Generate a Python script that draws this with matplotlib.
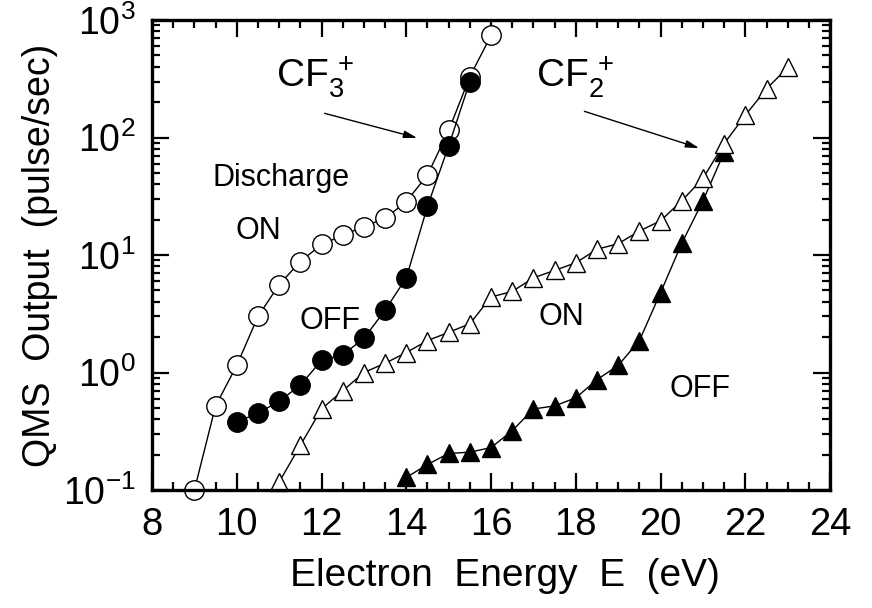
import matplotlib
matplotlib.use("Agg")
import matplotlib.pyplot as plt
from matplotlib.ticker import MultipleLocator, LogLocator, FixedLocator, NullFormatter

plt.rcParams['font.family'] = ['Liberation Sans', 'DejaVu Sans']
plt.rcParams['mathtext.fontset'] = 'custom'
plt.rcParams['mathtext.rm'] = 'Liberation Sans'
plt.rcParams['mathtext.default'] = 'regular'

# CF3+ signal, discharge on / off
cf3_on_e = [9.0, 9.5, 10.0, 10.5, 11.0, 11.5, 12.0, 12.5, 13.0, 13.5, 14.0, 14.5, 15.0, 15.5, 16.0]
cf3_on_v = [0.1, 0.52, 1.15, 3.0, 5.6, 8.8, 12.3, 14.7, 17.5, 20.5, 28.5, 48, 115, 330, 740]
cf3_off_e = [10.0, 10.5, 11.0, 11.5, 12.0, 12.5, 13.0, 13.5, 14.0, 14.5, 15.0, 15.5]
cf3_off_v = [0.38, 0.45, 0.57, 0.78, 1.27, 1.42, 1.95, 3.4, 6.4, 26, 85, 300]

# CF2+ signal, discharge on / off
cf2_on_e = [11.0, 11.5, 12.0, 12.5, 13.0, 13.5, 14.0, 14.5, 15.0, 15.5, 16.0, 16.5,
            17.0, 17.5, 18.0, 18.5, 19.0, 19.5, 20.0, 20.5, 21.0, 21.5, 22.0, 22.5, 23.0]
cf2_on_v = [0.117, 0.24, 0.49, 0.70, 1.0, 1.2, 1.48, 1.87, 2.2, 2.6, 4.4, 4.9,
            6.4, 7.4, 8.6, 11.2, 12.5, 16, 19.6, 29, 45, 89, 155, 260, 395]
cf2_off_e = [14.0, 14.5, 15.0, 15.5, 16.0, 16.5, 17.0, 17.5, 18.0, 18.5, 19.0, 19.5,
             20.0, 20.5, 21.0, 21.5]
cf2_off_v = [0.128, 0.165, 0.205, 0.21, 0.23, 0.32, 0.49, 0.52, 0.61, 0.87, 1.15, 1.87,
             4.8, 12.6, 29, 75]

y_ticks = [0.1, 1, 10, 100, 1000]
y_tick_labels = [r'$10^{-1}$', r'$10^{0}$', r'$10^{1}$', r'$10^{2}$', r'$10^{3}$']
x_ticks = [8, 10, 12, 14, 16, 18, 20, 22, 24]

fig = plt.figure(figsize=(8.72, 6.08), dpi=100)
ax = fig.add_axes([0.1743, 0.194, 0.7777, 0.773])

line_kw = dict(color='black', lw=1.0, clip_on=False)
ax.plot(cf3_on_e, cf3_on_v, marker='o', ms=14, mfc='white', mec='black', mew=1.0, **line_kw)
ax.plot(cf3_off_e, cf3_off_v, marker='o', ms=14, mfc='black', mec='black', mew=1.0, **line_kw)
ax.plot(cf2_off_e, cf2_off_v, marker='^', ms=13, mfc='black', mec='black', mew=1.0, **line_kw)
ax.plot(cf2_on_e, cf2_on_v, marker='^', ms=13, mfc='white', mec='black', mew=1.0, **line_kw)

ax.set_xlim(8, 24)
ax.set_yscale('log')
ax.set_ylim(0.1, 1000)

ax.xaxis.set_major_locator(FixedLocator(x_ticks))
ax.xaxis.set_minor_locator(MultipleLocator(0.5))
ax.set_yticks(y_ticks)
ax.set_yticklabels(y_tick_labels)
ax.yaxis.set_minor_locator(LogLocator(base=10, subs=range(2, 10)))
ax.yaxis.set_minor_formatter(NullFormatter())

ax.tick_params(which='both', direction='in', top=True, right=True, width=1.6)
ax.tick_params(axis='x', which='major', labelsize=27.5, pad=12)
ax.tick_params(axis='y', which='major', labelsize=27, pad=12)
ax.tick_params(which='major', length=12)
ax.tick_params(which='minor', length=6)
for s in ax.spines.values():
    s.set_linewidth(2.4)

ax.set_xlabel('Electron  Energy  E  (eV)', fontsize=28)
ax.xaxis.set_label_coords(0.52, -0.145)
ax.set_ylabel('QMS  Output  (pulse/sec)', fontsize=27)
ax.yaxis.set_label_coords(-0.138, 0.5)

ax.text(11.85, 330, r'CF$_3^{\,+}$', fontsize=28, ha='center', va='center')
ax.text(17.98, 330, r'CF$_2^{\,+}$', fontsize=28, ha='center', va='center')
arrow = dict(arrowstyle='-|>,head_length=0.8,head_width=0.22', color='black', lw=1.0)
ax.annotate('', xy=(14.32, 98), xytext=(12.01, 163), arrowprops=arrow)
ax.annotate('', xy=(20.97, 80), xytext=(18.14, 170), arrowprops=arrow)

ax.text(11.04, 45, 'Discharge', fontsize=22, ha='center', va='center')
ax.text(10.5, 16, 'ON', fontsize=22, ha='center', va='center')
ax.text(12.2, 2.77, 'OFF', fontsize=22, ha='center', va='center')
ax.text(17.67, 2.95, 'ON', fontsize=22, ha='center', va='center')
ax.text(20.92, 0.73, 'OFF', fontsize=22, ha='center', va='center')

fig.savefig('out.png', dpi=100)
